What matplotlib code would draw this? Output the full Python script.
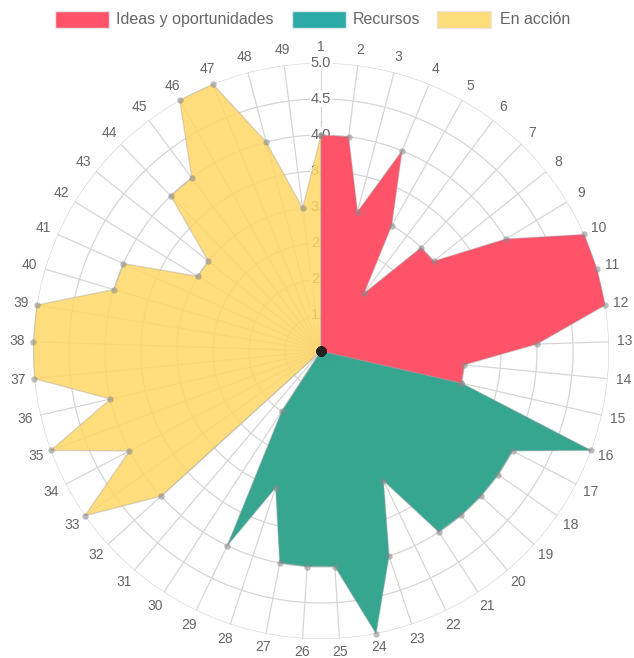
import numpy as np
import matplotlib
matplotlib.use('Agg')
import matplotlib.pyplot as plt
from matplotlib.patches import Rectangle

plt.rcParams['font.family'] = ['Liberation Sans', 'DejaVu Sans']

# ---------------- data ----------------
axis_labels = [str(i) for i in range(1, 50)]
series_names = ["Ideas y oportunidades", "Recursos", "En acción"]

ideas = [4, 4, 3, 4, 3, 2, 3, 3, 4, 5, 5, 5, 4, 3, 3,
         0, 0, 0, 0, 0, 0, 0, 0, 0, 0, 0, 0, 0, 0, 0,
         0, 0, 0, 0, 0, 0, 0, 0, 0, 0, 0, 0, 0, 0, 0,
         0, 0, 0, 0]
recursos = [0, 0, 0, 0, 0, 0, 0, 0, 0, 0, 0, 0, 0, 0, 3,
            5, 4, 4, 4, 4, 4, 3, 4, 5, 4, 4, 4, 3, 4, 2,
            0, 0, 0, 0, 0, 0, 0, 0, 0, 0, 0, 0, 0, 0, 0,
            0, 0, 0, 0]
en_accion = [4, 0, 0, 0, 0, 0, 0, 0, 0, 0, 0, 0, 0, 0, 0,
             0, 0, 0, 0, 0, 0, 0, 0, 0, 0, 0, 0, 0, 0, 0,
             0, 4, 5, 4, 5, 4, 5, 5, 5, 4, 4, 3, 3, 4, 4,
             5, 5, 4, 3]

r_min, r_max = 1.0, 5.0
ring_values = [1.5, 2.0, 2.5, 3.0, 3.5, 4.0, 4.5, 5.0]
ring_labels = ["1.5", "2.0", "2.5", "3.0", "3.5", "4.0", "4.5", "5.0"]

colors = {
    "Ideas y oportunidades": ("#FF5369", 1.0),
    "Recursos": ("#2FA38C", 0.96),
    "En acción": ("#FFD766", 0.85),
}
legend_colors = ["#FF5369", "#2BAAA6", "#FDDC7A"]

# ---------------- figure ----------------
W, H = 634, 658
fig = plt.figure(figsize=(W / 100, H / 100), dpi=100)
cx, cy, R = 321, 351, 288
ax = fig.add_axes([(cx - R) / W, (H - cy - R) / H, 2 * R / W, 2 * R / H], projection='polar')
ax.set_theta_zero_location('N')
ax.set_theta_direction(-1)
ax.set_ylim(r_min, r_max)
ax.grid(False)
ax.set_xticks([])
ax.set_yticks([])
ax.spines['polar'].set_visible(False)
ax.patch.set_alpha(0)

n = len(axis_labels)
theta = np.arange(n) * 2 * np.pi / n

grid_c = '#d6d6d6'
tt = np.linspace(0, 2 * np.pi, 400)
for rv in ring_values:
    ax.plot(tt, np.full_like(tt, rv), color=grid_c, lw=0.9, zorder=1)
for t in theta:
    ax.plot([t, t], [r_min, r_max], color=grid_c, lw=0.9, zorder=1)

# tick labels (under the datasets)
for rv, lab in zip(ring_values, ring_labels):
    ax.text(0, rv, lab, ha='center', va='center', fontsize=10.5, color='#666666',
            zorder=2, bbox=dict(boxstyle='square,pad=0.05', fc='white', ec='none'))

# axis labels
for t, lab in zip(theta, axis_labels):
    rr = 5.22 if abs(t - np.pi) > 0.3 else 5.19
    ax.text(t, rr, lab, ha='center', va='center', fontsize=10, color='#666666')

# datasets: draw last first so first is on top
series = [("Ideas y oportunidades", ideas), ("Recursos", recursos), ("En acción", en_accion)]
z = 3
for name, vals in series[::-1]:
    v = np.clip(np.array(vals, dtype=float), r_min, r_max)
    tc = np.append(theta, theta[0])
    vc = np.append(v, v[0])
    col, a = colors[name]
    ax.fill(tc, vc, color=col, alpha=a, zorder=z, lw=0)
    ax.plot(tc, vc, color='#9a9a9a', alpha=0.35, lw=1, zorder=z + 0.1)
    outer = v > r_min
    ax.plot(theta[outer], v[outer], 'o', ms=4.6, color='#888888', alpha=0.55,
            mec='none', zorder=z + 0.2, clip_on=False)
    ax.plot(theta[~outer], v[~outer], 'o', ms=7, color='#222222', alpha=0.6,
            mec='none', zorder=10, clip_on=False)
    z += 1

# legend (manual)
def px(x, y):
    return x / W, 1 - y / H

legend_items = [(55, 116), (292, 353), (437, 500)]
for (bx, tx), name, lc in zip(legend_items, series_names, legend_colors):
    x0, y0 = px(bx, 28)
    fig.add_artist(Rectangle((x0, y0), 54 / W, 17 / H, transform=fig.transFigure,
                             facecolor=lc, edgecolor='#e6e6e6', lw=1))
    fig.text(*px(tx, 19.5), name, ha='left', va='center', fontsize=11.5, color='#666666')

fig.savefig('out.png', dpi=100)
